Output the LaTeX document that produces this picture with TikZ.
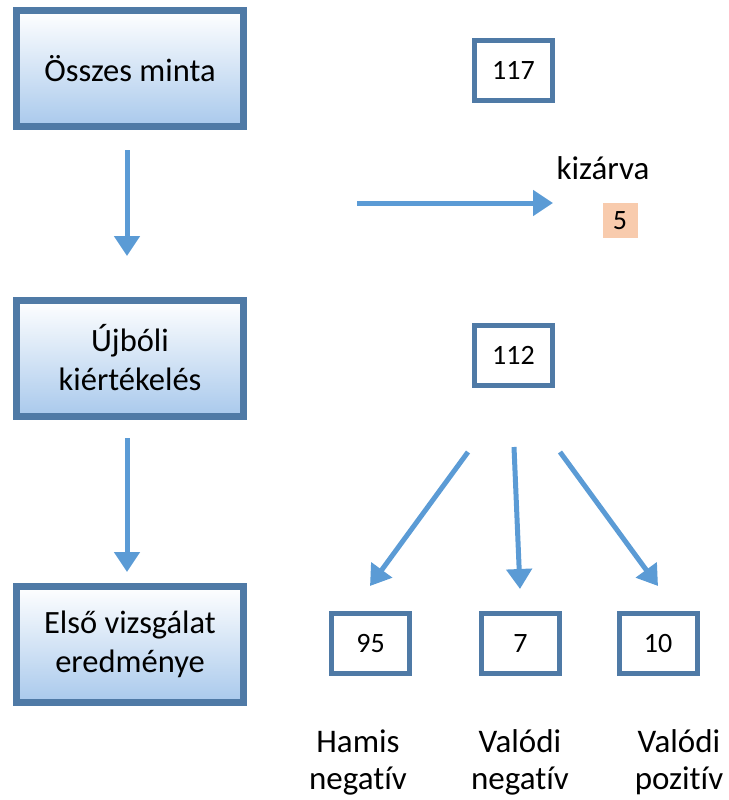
\documentclass[tikz,border=0pt]{standalone}
\usepackage{fontspec}
\setmainfont[Ligatures=NoCommon]{Carlito}
\usetikzlibrary{arrows.meta}
\definecolor{bordc}{HTML}{4F7AA6}
\definecolor{arrc}{HTML}{5B9BD5}
\definecolor{botc}{HTML}{A9C9EC}
\definecolor{orangec}{HTML}{F8CBAD}
\begin{document}
\begin{tikzpicture}[x=1pt,y=-1pt,
  stepbox/.style={draw=bordc,line width=7pt,top color=white,bottom color=botc,
    minimum width=227pt,minimum height=116pt,align=center,inner sep=0pt,
    font=\fontsize{32.5}{39}\selectfont},
  numbox/.style={draw=bordc,line width=5pt,fill=white,minimum width=78pt,
    minimum height=60pt,inner sep=0pt,font=\fontsize{28}{32}\selectfont},
  lbl/.style={align=center,inner sep=0pt,font=\fontsize{33}{37}\selectfont},
  arr/.style={draw=arrc,line width=5pt,-{Triangle[width=25pt,length=20pt]}}]
\useasboundingbox (0,0) rectangle (728,800);
\node[stepbox] (s1) at (130,68.5) {Összes minta};
\node[stepbox] (s2) at (130,358) {Újbóli\\kiértékelés};
\node[stepbox] (s3) at (130,644) {Első vizsgálat\\eredménye};
\node[numbox] (n117) at (513.5,70.5) {117};
\node[numbox] (n112) at (513.5,355.5) {112};
\node[numbox] (n95) at (370.5,643.5) {95};
\node[numbox] (n7) at (520.5,643.5) {7};
\node[numbox] (n10) at (658,643.5) {10};
\node[lbl] (kiz) at (603,168) {kizárva};
\node[fill=orangec,minimum width=35pt,minimum height=35pt,inner sep=0pt,
  font=\fontsize{28}{32}\selectfont] (n5) at (620,220.5) {5};
\node[lbl] (l1) at (358,762) {Hamis\\negatív};
\node[lbl] (l2) at (520,762) {Valódi\\negatív};
\node[lbl] (l3) at (679,762) {Valódi\\pozitív};
\coordinate (a1s) at (127,150);
\coordinate (a1e) at (127,256);
\coordinate (a2s) at (127,438);
\coordinate (a2e) at (127,572);
\coordinate (hs) at (357,203);
\coordinate (he) at (553,203);
\coordinate (b1s) at (468,452);
\coordinate (b1e) at (370,586);
\coordinate (b2s) at (514,447);
\coordinate (b2e) at (520,589);
\coordinate (b3s) at (560,452);
\coordinate (b3e) at (658,586);
\draw[arr] (a1s) -- (a1e);
\draw[arr] (a2s) -- (a2e);
\draw[arr] (hs) -- (he);
\draw[arr] (b1s) -- (b1e);
\draw[arr] (b2s) -- (b2e);
\draw[arr] (b3s) -- (b3e);
\end{tikzpicture}
\end{document}
